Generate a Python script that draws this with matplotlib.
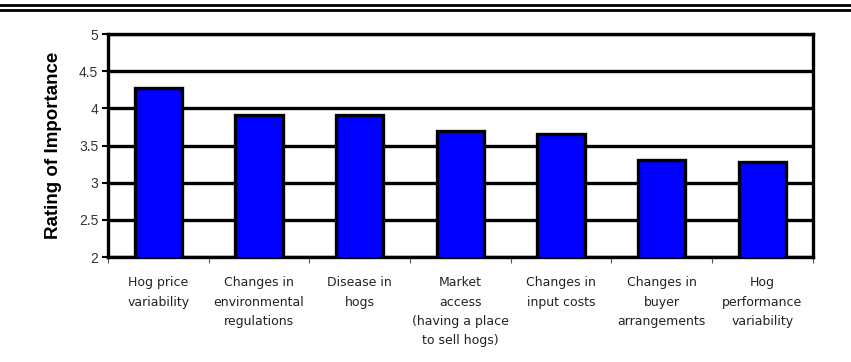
import matplotlib.pyplot as plt
import numpy as np

categories = [
    "Hog price\nvariability",
    "Changes in\nenvironmental\nregulations",
    "Disease in\nhogs",
    "Market\naccess\n(having a place\nto sell hogs)",
    "Changes in\ninput costs",
    "Changes in\nbuyer\narrangements",
    "Hog\nperformance\nvariability",
]
ratings = [4.27, 3.91, 3.91, 3.70, 3.66, 3.31, 3.28]
yticks = [2, 2.5, 3, 3.5, 4, 4.5, 5]

fig = plt.figure(figsize=(8.51, 3.62), dpi=100)
ax = fig.add_axes([0.127, 0.29, 0.828, 0.616])

x = np.arange(len(categories))
ax.set_axisbelow(True)
ax.yaxis.grid(True, color='black', linewidth=2.4)
ax.bar(x, ratings, width=0.47, bottom=0, color='#0000ff',
       edgecolor='black', linewidth=2.4, zorder=3)

ax.set_xlim(-0.5, len(categories) - 0.5)
ax.set_ylim(2, 5)
ax.set_yticks(yticks)
ax.set_yticklabels([f"{t:g}" for t in yticks], fontsize=10,
                   color='#333333', family='Liberation Sans')

# category boundaries carry the tick marks, labels sit in between
ax.set_xticks(np.arange(len(categories) + 1) - 0.5)
ax.set_xticklabels([])
ax.set_xticks(x, minor=True)
ax.set_xticklabels(categories, minor=True, fontsize=9, color='#222222',
                   family='DejaVu Sans', linespacing=1.62)
ax.tick_params(axis='x', which='minor', length=0, pad=14)
ax.tick_params(axis='x', which='major', length=4, width=0.8, color='#555555')
ax.tick_params(axis='y', length=4, width=1.5, color='black', pad=3)

for side in ['left', 'bottom', 'right', 'top']:
    ax.spines[side].set_linewidth(2.4)
    ax.spines[side].set_color('black')

ax.set_ylabel("Rating of Importance", fontsize=13.5, fontweight='bold',
              family='Liberation Sans', labelpad=12)

# double rule across the top of the figure
fig.add_artist(plt.Line2D([0, 1], [1 - 5 / 362, 1 - 5 / 362],
                          color='black', linewidth=2))
fig.add_artist(plt.Line2D([0, 1], [1 - 9.5 / 362, 1 - 9.5 / 362],
                          color='black', linewidth=2))

fig.savefig("out.png", dpi=100)
